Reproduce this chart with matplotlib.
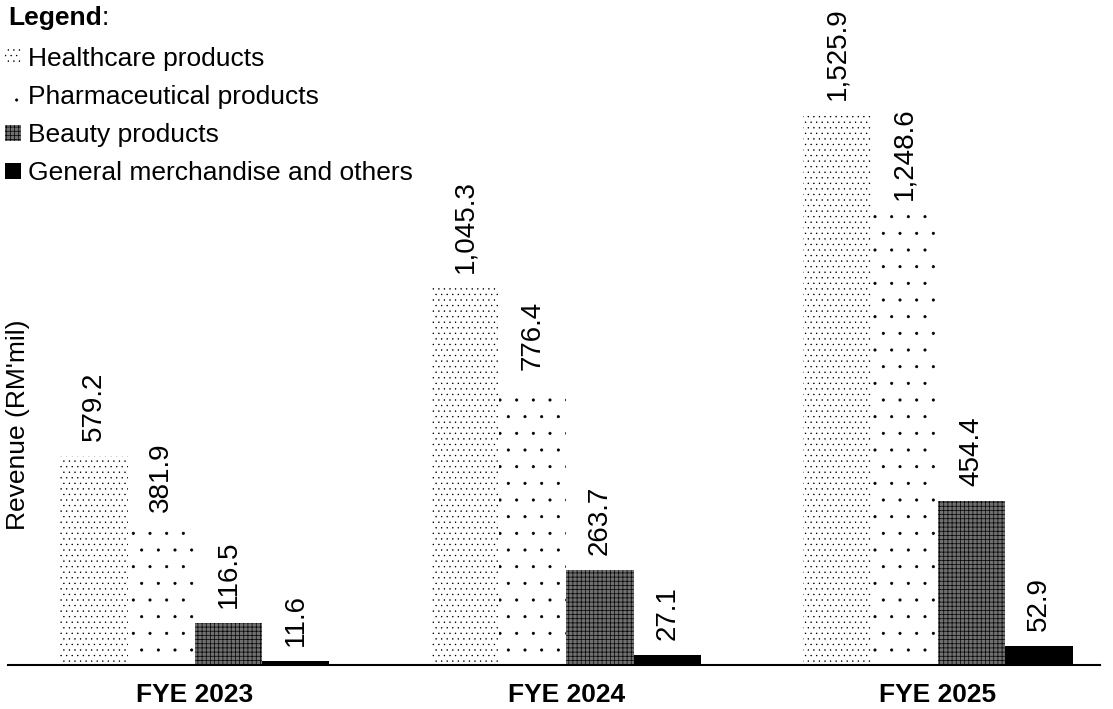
import matplotlib
matplotlib.use("Agg")
import matplotlib.pyplot as plt
import matplotlib.patches as patches
import matplotlib.hatch
import numpy as np

years = ["FYE 2023", "FYE 2024", "FYE 2025"]
categories = ["Healthcare products", "Pharmaceutical products",
              "Beauty products", "General merchandise and others"]
healthcare = [579.2, 1045.3, 1525.9]
pharma = [381.9, 776.4, 1248.6]
beauty = [116.5, 263.7, 454.4]
general = [11.6, 27.1, 52.9]

plt.rcParams['font.family'] = ['Liberation Sans', 'DejaVu Sans']
plt.rcParams['hatch.linewidth'] = 0.5
# smaller dots for the '.' hatches
matplotlib.hatch.SmallFilledCircles.size = 0.07

styles = [
    dict(facecolor='white', hatch='...'),
    dict(facecolor='white', hatch='.'),
    dict(facecolor='#707070', hatch='++++'),
    dict(facecolor='black', hatch=None),
]

fig = plt.figure(figsize=(11.13, 7.09), dpi=100)
ax = fig.add_axes([8 / 1113, 44 / 709, 1092 / 1113, 665 / 709])

x = np.arange(len(years))
w = 0.181
series = [healthcare, pharma, beauty, general]
for i, (vals, st) in enumerate(zip(series, styles)):
    pos = x + (i - 1.5) * w
    ax.bar(pos, vals, width=w, edgecolor='black', linewidth=0, **st)
    for p, v in zip(pos, vals):
        ax.annotate(f"{v:,.1f}", (p, v), xytext=(0, 11),
                    textcoords='offset points', rotation=90,
                    ha='center', va='bottom', fontsize=20)

ax.set_xlim(-0.503, 2.436)
ax.set_ylim(0, 1845)
for s in ['top', 'right', 'left']:
    ax.spines[s].set_visible(False)
ax.spines['bottom'].set_linewidth(1.5)
ax.set_yticks([])
ax.set_xticks(x)
ax.set_xticklabels(years, fontsize=19, fontweight='bold')
ax.tick_params(axis='x', length=0, pad=13)

fig.text(18 / 1113, 1 - 425 / 709, "Revenue (RM'mil)", rotation=90,
         ha='center', va='center', fontsize=19)

t = fig.text(8 / 1113, 1 - 18 / 709, "Legend", fontsize=19,
             fontweight='bold', va='center')
ax.annotate(":", xy=(1, 0), xycoords=t, fontsize=19, va='bottom')

handles = [patches.Rectangle((0, 0), 1, 1, edgecolor='black', linewidth=0, **st)
           for st in styles]
leg = fig.legend(handles, categories, loc='upper left',
                 bbox_to_anchor=(0.0, 1 - 42 / 709), frameon=False,
                 fontsize=19, handlelength=0.6, handleheight=0.6,
                 handletextpad=0.25, labelspacing=0.53, borderaxespad=0,
                 borderpad=0.2)

fig.savefig("out.png", dpi=100)
